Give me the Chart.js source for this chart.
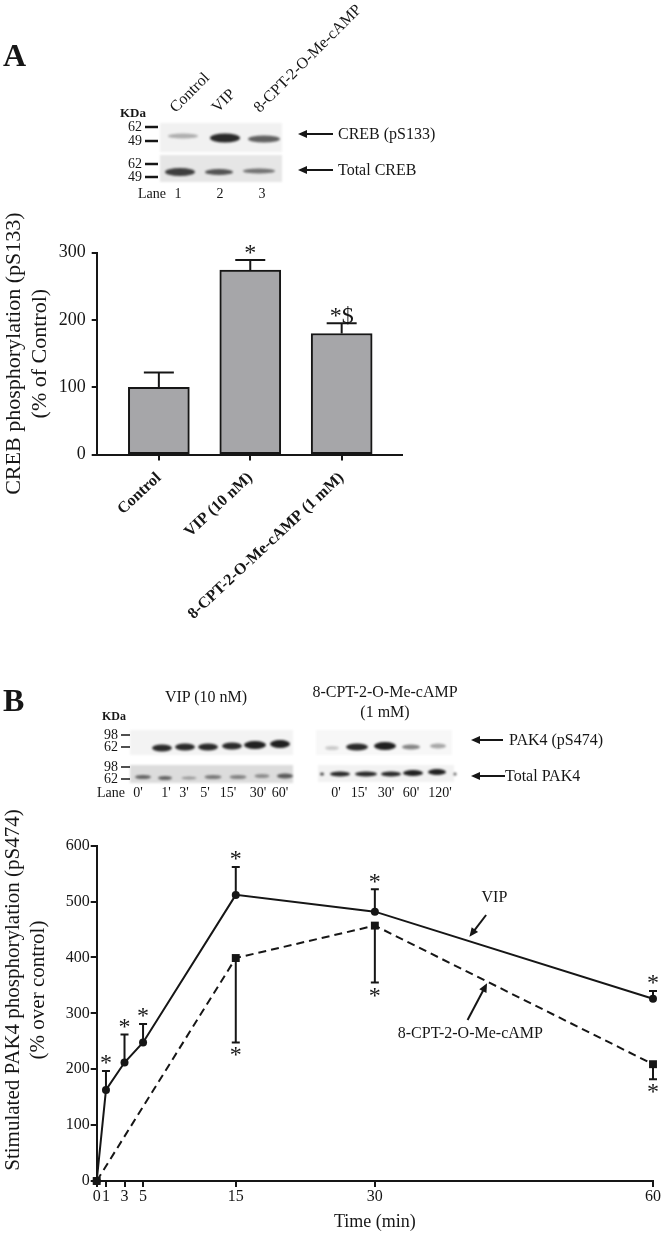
<!DOCTYPE html>
<html>
<head>
<meta charset="utf-8">
<script src="https://cdn.jsdelivr.net/npm/chart.js@4.4.1/dist/chart.umd.min.js"></script>
<style>
  body { margin: 0; width: 666px; height: 1236px; position: relative; background: #fff; overflow: hidden; }
  .caixa { position: absolute; }
  .lbl { position: absolute; white-space: nowrap; line-height: 1; color: #161616; font-family: 'Liberation Serif', serif; }
</style>
</head>
<body>
<div class="caixa" style="left:0;top:0"><canvas id="decor" width="666" height="1236"></canvas></div>
<div class="caixa" style="left:0;top:200px"><canvas id="grafA" width="420" height="430"></canvas></div>
<div class="caixa" style="left:0;top:820px"><canvas id="grafB" width="666" height="416"></canvas></div>
<script>
const SERIF = "'Liberation Serif', serif";
const INK = '#161616';

// painel A
const creebLabels = ['Control', 'VIP (10 nM)', '8-CPT-2-O-Me-cAMP (1 mM)'];
const creebMean = [100, 274, 180];
const creebSem = [22, 15, 15];
const creebSig = ['', '*', '*$'];
const creebTicks = [0, 100, 200, 300];

// painel B
const timeTicks = [0, 1, 3, 5, 15, 30, 60];
const vipTime = [0, 1, 3, 5, 15, 30, 60];
const vipMean = [0, 163, 212, 248, 512, 482, 326];
const vipSem = [0, 34, 50, 33, 50, 40, 14];
const vipSig = ['', '*', '*', '*', '*', '*', '*'];
const cptTime = [0, 15, 30, 60];
const cptMean = [0, 399, 457, 209];
const cptSem = [0, 151, 102, 27];
const cptSig = ['', '*', '*', '*'];

// setas com texto, em unidades do grafico
const notasB = [
  { text: 'VIP', at: [42.9, 506], tail: [42.0, 476], tip: [40.2, 437] },
  { text: '8-CPT-2-O-Me-cAMP', at: [40.3, 263], tail: [40.0, 288], tip: [42.1, 354] }
];

function seta(ctx, x1, y1, x2, y2, head) {
  const ang = Math.atan2(y2 - y1, x2 - x1);
  ctx.beginPath();
  ctx.moveTo(x1, y1);
  ctx.lineTo(x2 - Math.cos(ang) * head * 0.8, y2 - Math.sin(ang) * head * 0.8);
  ctx.stroke();
  ctx.beginPath();
  ctx.moveTo(x2, y2);
  ctx.lineTo(x2 - head * Math.cos(ang) + head * 0.45 * Math.sin(ang), y2 - head * Math.sin(ang) - head * 0.45 * Math.cos(ang));
  ctx.lineTo(x2 - head * Math.cos(ang) - head * 0.45 * Math.sin(ang), y2 - head * Math.sin(ang) + head * 0.45 * Math.cos(ang));
  ctx.closePath();
  ctx.fill();
}

const barrasErro = {
  id: 'barrasErro',
  afterDatasetsDraw(chart) {
    const ctx = chart.ctx;
    const ys = chart.scales.y;
    chart.data.datasets.forEach((ds, i) => {
      if (!ds.sem) return;
      const meta = chart.getDatasetMeta(i);
      ctx.save();
      ctx.strokeStyle = INK;
      ctx.fillStyle = INK;
      ctx.lineWidth = 2;
      meta.data.forEach((el, j) => {
        const e = ds.sem[j];
        if (!e) return;
        const v = ds.data[j].y;
        const baixo = ds.errDir === 'down';
        const py = ys.getPixelForValue(baixo ? v - e : v + e);
        ctx.beginPath();
        ctx.moveTo(el.x, el.y);
        ctx.lineTo(el.x, py);
        ctx.moveTo(el.x - ds.capHalf, py);
        ctx.lineTo(el.x + ds.capHalf, py);
        ctx.stroke();
        const s = ds.sig && ds.sig[j];
        if (s) {
          ctx.font = ds.sigSize + 'px ' + SERIF;
          ctx.textAlign = 'center';
          ctx.textBaseline = 'alphabetic';
          ctx.fillText(s, el.x, baixo ? py + 20 : py - 0.5);
        }
      });
      ctx.restore();
    });
  }
};

const notas = {
  id: 'notas',
  afterDraw(chart) {
    if (chart.canvas.id !== 'grafB') return;
    const ctx = chart.ctx, xs = chart.scales.x, ys = chart.scales.y;
    ctx.save();
    ctx.strokeStyle = INK;
    ctx.fillStyle = INK;
    ctx.lineWidth = 2;
    notasB.forEach(n => {
      ctx.font = '16px ' + SERIF;
      ctx.textAlign = 'center';
      ctx.textBaseline = 'middle';
      ctx.fillText(n.text, xs.getPixelForValue(n.at[0]), ys.getPixelForValue(n.at[1]));
      seta(ctx, xs.getPixelForValue(n.tail[0]), ys.getPixelForValue(n.tail[1]),
        xs.getPixelForValue(n.tip[0]), ys.getPixelForValue(n.tip[1]), 9);
    });
    ctx.restore();
  }
};

const eixo = { color: INK, width: 2 };
const grade = { drawOnChartArea: false, offset: false, tickLength: 6, lineWidth: 2, color: INK };

new Chart(document.getElementById('grafA'), {
  type: 'bar',
  data: {
    datasets: [{
      data: creebLabels.map((c, i) => ({ x: i + 1, y: creebMean[i] })),
      backgroundColor: '#a6a6a9',
      borderColor: INK,
      borderWidth: 2,
      borderSkipped: false,
      barThickness: 61,
      sem: creebSem,
      sig: creebSig,
      capHalf: 15,
      sigSize: 24
    }]
  },
  options: {
    responsive: false,
    animation: false,
    devicePixelRatio: 1,
    layout: { padding: { top: 52.7, right: 18, left: 0, bottom: 0 } },
    plugins: { legend: { display: false }, tooltip: { enabled: false } },
    scales: {
      x: {
        type: 'linear', min: 0.32, max: 3.66, offset: false,
        afterBuildTicks: s => { s.ticks = creebLabels.map((c, i) => ({ value: i + 1 })); },
        afterFit: s => { s.height = 175.4; },
        ticks: {
          autoSkip: false, minRotation: 43, maxRotation: 43, padding: 8, color: INK,
          font: { family: SERIF, size: 16, weight: 'bold' },
          callback: v => creebLabels[v - 1]
        },
        grid: grade,
        border: eixo
      },
      y: {
        min: 0, max: 300,
        afterBuildTicks: s => { s.ticks = creebTicks.map(v => ({ value: v })); },
        afterFit: s => { s.width = 96.7; },
        ticks: { padding: 6, color: INK, font: { family: SERIF, size: 18 } },
        grid: { ...grade, tickLength: 5 },
        border: eixo,
        title: {
          display: true,
          text: ['CREB phosphorylation (pS133)', '(% of Control)'],
          color: INK,
          font: { family: SERIF, size: 22, lineHeight: 1.2 },
          padding: { top: 1, bottom: 0 }
        }
      }
    }
  },
  plugins: [barrasErro]
});

new Chart(document.getElementById('grafB'), {
  type: 'line',
  data: {
    datasets: [{
      data: cptTime.map((t, i) => ({ x: t, y: cptMean[i] })),
      borderColor: INK,
      borderWidth: 2,
      borderDash: [8, 5],
      pointStyle: 'rect',
      pointRadius: 5.6,
      pointBackgroundColor: INK,
      pointBorderColor: INK,
      pointBorderWidth: 0,
      clip: false,
      sem: cptSem, sig: cptSig, errDir: 'down', capHalf: 4, sigSize: 24
    }, {
      data: vipTime.map((t, i) => ({ x: t, y: vipMean[i] })),
      borderColor: INK,
      borderWidth: 2,
      pointStyle: 'circle',
      pointRadius: 4,
      pointBackgroundColor: INK,
      pointBorderColor: INK,
      pointBorderWidth: 0,
      clip: false,
      sem: vipSem, sig: vipSig, errDir: 'up', capHalf: 4, sigSize: 24
    }]
  },
  options: {
    responsive: false,
    animation: false,
    devicePixelRatio: 1,
    layout: { padding: { top: 25.7, right: 13, left: 0, bottom: 0 } },
    plugins: { legend: { display: false }, tooltip: { enabled: false } },
    scales: {
      x: {
        type: 'linear', min: 0, max: 60,
        afterBuildTicks: s => { s.ticks = timeTicks.map(v => ({ value: v })); },
        afterFit: s => { s.height = 55; },
        ticks: { autoSkip: false, maxRotation: 0, padding: 0, color: INK, font: { family: SERIF, size: 16 } },
        grid: grade,
        border: eixo,
        title: {
          display: true, text: 'Time (min)', color: INK,
          font: { family: SERIF, size: 18 }, padding: { top: 0, bottom: 3 }
        }
      },
      y: {
        min: 0, max: 600,
        ticks: { stepSize: 100, padding: 1, color: INK, font: { family: SERIF, size: 16 } },
        afterFit: s => { s.width = 96.7; },
        grid: grade,
        border: eixo
      }
    }
  },
  plugins: [barrasErro, notas]
});

// textos e bandas dos western blots
function texto(t, x, y, o = {}) {
  const s = document.createElement('span');
  s.className = 'lbl';
  s.textContent = t;
  const size = o.size || 14;
  s.style.fontSize = size + 'px';
  if (o.bold) s.style.fontWeight = 'bold';
  s.style.left = x + 'px';
  if (o.rot) {
    s.style.top = (y - size * 0.84) + 'px';
    s.style.transformOrigin = '0 ' + (size * 0.84) + 'px';
    s.style.transform = 'rotate(' + o.rot + 'deg)';
  } else {
    s.style.top = y + 'px';
    const tx = o.align === 'center' ? '-50%' : o.align === 'right' ? '-100%' : '0';
    s.style.transform = 'translate(' + tx + ', -50%)';
  }
  document.body.appendChild(s);
  return s;
}

texto('A', 3, 55, { size: 32, bold: true });
texto('B', 3, 700, { size: 32, bold: true });

// cabecalhos A
texto('Control', 176, 113, { size: 16, rot: -45 });
texto('VIP', 218, 113, { size: 16, rot: -45 });
texto('8-CPT-2-O-Me-cAMP', 260, 113, { size: 16, rot: -45 });
texto('KDa', 120, 112, { size: 13, bold: true });
[['62', 127], ['49', 141], ['62', 164], ['49', 177]].forEach(m => texto(m[0], 128, m[1], { size: 14 }));
texto('Lane', 138, 194, { size: 14 });
['1', '2', '3'].forEach((l, i) => texto(l, [178, 220, 262][i], 194, { size: 14, align: 'center' }));
texto('CREB (pS133)', 338, 134, { size: 16 });
texto('Total CREB', 338, 170, { size: 16 });

// cabecalhos B
texto('VIP (10 nM)', 206, 697, { size: 16, align: 'center' });
texto('8-CPT-2-O-Me-cAMP', 385, 692, { size: 16, align: 'center' });
texto('(1 mM)', 385, 712, { size: 16, align: 'center' });
texto('KDa', 102, 716, { size: 12, bold: true });
[['98', 735], ['62', 747], ['98', 767], ['62', 779]].forEach(m => texto(m[0], 104, m[1], { size: 14 }));
texto('Lane', 97, 793, { size: 14 });
const lanesB = [["0'", 138], ["1'", 166], ["3'", 184], ["5'", 205], ["15'", 228], ["30'", 258], ["60'", 280],
  ["0'", 336], ["15'", 359], ["30'", 386], ["60'", 411], ["120'", 440]];
lanesB.forEach(l => texto(l[0], l[1], 793, { size: 14, align: 'center' }));
texto('PAK4 (pS474)', 509, 740, { size: 16 });
texto('Total PAK4', 505, 776, { size: 16 });

const dc = document.getElementById('decor').getContext('2d');

function blot(x, y, w, h, fundo, bandas) {
  dc.save();
  dc.fillStyle = fundo;
  dc.filter = 'blur(1px)';
  dc.fillRect(x, y, w, h);
  dc.filter = 'blur(1.3px)';
  bandas.forEach(b => {
    dc.fillStyle = 'rgba(20,20,20,' + b[4] + ')';
    dc.beginPath();
    dc.ellipse(b[0], b[1], b[2] / 2, b[3] / 2, 0, 0, Math.PI * 2);
    dc.fill();
  });
  dc.restore();
}

blot(160, 123, 122, 29, '#f1f1f1', [[183, 136, 30, 5, 0.3], [225, 138, 30, 9, 0.9], [264, 139, 32, 7, 0.65]]);
blot(160, 155, 122, 27, '#e6e6e6', [[180, 172, 30, 8, 0.8], [219, 172, 28, 6, 0.7], [259, 171, 32, 5, 0.55]]);
blot(130, 730, 163, 25, '#f3f3f3', [[162, 748, 20, 7, 0.9], [185, 747, 20, 7, 0.9], [208, 747, 20, 7, 0.9],
  [232, 746, 20, 7, 0.9], [255, 745, 22, 8, 0.95], [280, 744, 20, 8, 0.95]]);
blot(130, 765, 163, 18, '#dcdcdc', [[143, 777, 16, 4, 0.6], [165, 778, 14, 4, 0.6], [189, 778, 15, 3, 0.35],
  [213, 777, 17, 4, 0.5], [238, 777, 17, 4, 0.45], [262, 776, 15, 4, 0.4], [285, 776, 16, 5, 0.65]]);
blot(316, 730, 136, 25, '#f7f7f7', [[332, 748, 14, 4, 0.2], [357, 747, 22, 7, 0.9], [385, 746, 22, 8, 0.95],
  [411, 747, 18, 5, 0.5], [438, 746, 16, 5, 0.35]]);
blot(318, 765, 136, 17, '#f2f2f2', [[322, 774, 4, 3, 0.8], [340, 774, 20, 5, 0.9], [366, 774, 22, 5, 0.9],
  [391, 774, 20, 5, 0.9], [413, 773, 20, 6, 0.95], [437, 772, 18, 6, 0.95], [455, 774, 3, 3, 0.7]]);

dc.strokeStyle = INK;
dc.fillStyle = INK;
dc.lineWidth = 2.5;
[127, 141, 164, 177].forEach(y => { dc.beginPath(); dc.moveTo(145, y); dc.lineTo(158, y); dc.stroke(); });
dc.lineWidth = 1.5;
[735, 747, 767, 779].forEach(y => { dc.beginPath(); dc.moveTo(121, y); dc.lineTo(130, y); dc.stroke(); });
dc.lineWidth = 2;
seta(dc, 333, 134, 298, 134, 9);
seta(dc, 333, 170, 298, 170, 9);
seta(dc, 503, 740, 471, 740, 9);
seta(dc, 505, 776, 471, 776, 9);

// titulo do eixo y do painel B
const tb = document.createElement('div');
tb.className = 'lbl';
tb.style.cssText += 'width:400px;height:50px;left:-175px;top:965px;font-size:21px;line-height:25px;text-align:center;transform:rotate(-90deg);';
tb.innerHTML = 'Stimulated PAK4 phosphorylation (pS474)<br>(% over control)';
document.body.appendChild(tb);
</script>
</body>
</html>
